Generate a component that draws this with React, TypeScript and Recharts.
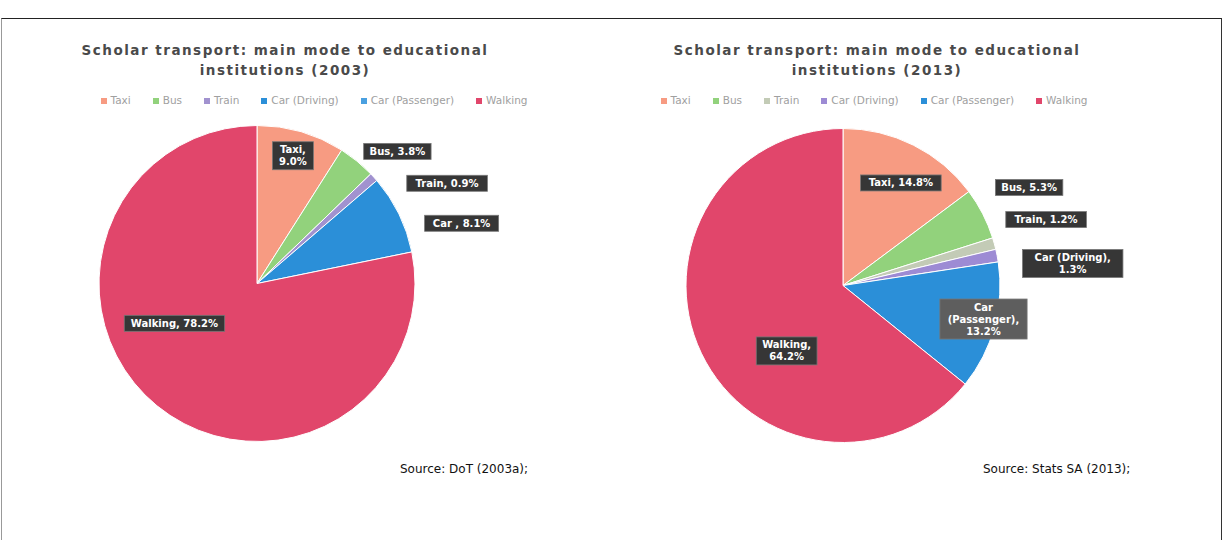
import React from 'react';
import { PieChart, Pie, Cell, Legend } from 'recharts';

const categories = ['Taxi', 'Bus', 'Train', 'Car (Driving)', 'Car (Passenger)', 'Walking'];
const values2003 = [9.0, 3.8, 0.9, 8.1, 0, 78.2];
const values2013 = [14.8, 5.3, 1.2, 1.3, 13.2, 64.2];
const labelNames2003 = ['Taxi', 'Bus', 'Train', 'Car ', 'Car (Passenger)', 'Walking'];
const labelNames2013 = ['Taxi', 'Bus', 'Train', 'Car (Driving)', 'Car (Passenger)', 'Walking'];
const title2003 = ['Scholar transport: main mode to educational', 'institutions (2003)'];
const title2013 = ['Scholar transport: main mode to educational', 'institutions (2013)'];
const source2003 = 'Source: DoT (2003a);';
const source2013 = 'Source: Stats SA (2013);';

const colors2003 = ['#f79b82', '#92d27c', '#a192cf', '#2b8fd8', '#4aa0e0', '#e1466b'];
const colors2013 = ['#f79b82', '#92d27c', '#c3cbb6', '#9d8bd4', '#2b8fd8', '#e1466b'];

type LabelCfg = { k: number; off: number; lines: number; bg?: string } | null;
const labelCfg2003: LabelCfg[] = [
  { k: 0.84, off: -0.5, lines: 2 },
  { k: 1.22, off: 7.5, lines: 1 },
  { k: 1.36, off: 14.5, lines: 1 },
  { k: 1.35, off: 9.7, lines: 1 },
  null,
  { k: 0.58, off: 25, lines: 1 },
];
const labelCfg2013: LabelCfg[] = [
  { k: 0.75, off: 2.8, lines: 1 },
  { k: 1.34, off: -0.6, lines: 1 },
  { k: 1.36, off: -2.5, lines: 1 },
  { k: 1.47, off: 5.5, lines: 2 },
  { k: 0.92, off: -1.7, lines: 3, bg: '#5e5e5e' },
  { k: 0.55, off: -23.7, lines: 2 },
];

const FONT = '"DejaVu Sans", Verdana, sans-serif';
// Recharts places numeric cx/cy inside the plot offset (margin + legend height)
const OFFSET_X = 5;
const OFFSET_Y = 15.5;

function makeLabel(cfg: LabelCfg[], names: string[]) {
  return (props: any) => {
    const { cx, cy, midAngle, outerRadius, index, value } = props;
    const c = cfg[index];
    if (!value || !c) return null;
    const ang = ((midAngle - c.off) * Math.PI) / 180;
    const r = outerRadius * c.k;
    const x = cx + r * Math.cos(ang);
    const y = cy - r * Math.sin(ang);
    const name = names[index];
    const pct = `${Number(value).toFixed(1)}%`;
    let lines: string[];
    if (c.lines === 1) lines = [`${name}, ${pct}`];
    else if (c.lines === 2) lines = [`${name},`, pct];
    else {
      const parts = name.split(' ');
      lines = [...parts.slice(0, -1), `${parts[parts.length - 1]},`, pct];
    }
    const lh = 12;
    const maxLen = Math.max(...lines.map((l) => l.length));
    const w = maxLen * 6.6 + 8;
    const h = lines.length * lh + 4;
    return (
      <g key={`lbl-${index}`}>
        <rect x={x - w / 2} y={y - h / 2} width={w} height={h} fill={c.bg || '#363636'} stroke="#777" strokeWidth={0.8} />
        {lines.map((l, i) => (
          <text
            key={i}
            x={x}
            y={y - h / 2 + 2 + lh * i + lh / 2}
            textAnchor="middle"
            dominantBaseline="central"
            fill="#fff"
            fontSize={10}
            fontWeight="bold"
            fontFamily={FONT}
          >
            {l}
          </text>
        ))}
      </g>
    );
  };
}

function ChartPanel(props: {
  left: number;
  values: number[];
  colors: string[];
  cfg: LabelCfg[];
  names: string[];
  title: string[];
  source: string;
  titleCenter: number;
  cx: number;
  cy: number;
  radius: number;
  legendCenter: number;
  sourceLeft: number;
}) {
  const data = categories.map((c, i) => ({ name: c, value: props.values[i] }));
  const legendWidth = 540;
  return (
    <div style={{ position: 'absolute', left: props.left, top: 0, width: 611, height: 540 }}>
      <div
        style={{
          position: 'absolute',
          left: props.titleCenter - 300,
          width: 600,
          top: 40,
          textAlign: 'center',
          fontFamily: FONT,
          fontSize: 13.5,
          fontWeight: 'bold',
          letterSpacing: 1.5,
          lineHeight: '20px',
          color: '#4a4a4a',
        }}
      >
        {props.title.map((t, i) => (
          <div key={i}>{t}</div>
        ))}
      </div>
      <PieChart width={611} height={540} style={{ position: 'absolute', left: 0, top: 0 }}>
        <Legend
          verticalAlign="top"
          align="center"
          iconType="square"
          iconSize={6}
          itemSorter={(item: any) => categories.indexOf(item.value)}
          wrapperStyle={{
            position: 'absolute',
            top: 94,
            left: props.legendCenter - legendWidth / 2,
            width: legendWidth,
            fontFamily: FONT,
            fontSize: 10.5,
            whiteSpace: 'nowrap',
          }}
          formatter={(v: string) => <span style={{ color: '#a0a0a0', marginRight: 12 }}>{v}</span>}
        />
        <Pie
          data={data}
          dataKey="value"
          nameKey="name"
          cx={props.cx - OFFSET_X}
          cy={props.cy - OFFSET_Y}
          outerRadius={props.radius}
          startAngle={90}
          endAngle={-270}
          stroke="#ffffff"
          strokeWidth={1}
          labelLine={false}
          label={makeLabel(props.cfg, props.names)}
          isAnimationActive={false}
        >
          {data.map((d, i) => (
            <Cell key={d.name} fill={props.colors[i]} />
          ))}
        </Pie>
      </PieChart>
      <div
        style={{
          position: 'absolute',
          left: props.sourceLeft,
          top: 462,
          fontFamily: FONT,
          fontSize: 12,
          color: '#111',
          whiteSpace: 'nowrap',
        }}
      >
        {props.source}
      </div>
    </div>
  );
}

export default function App() {
  return (
    <div style={{ position: 'fixed', left: 0, top: 0, width: 1223, height: 540, background: '#fff', overflow: 'hidden' }}>
      <div
        style={{
          position: 'absolute',
          left: 1,
          top: 18,
          width: 1219,
          height: 600,
          borderTop: '1.5px solid #222',
          borderLeft: '1px solid #999',
          borderRight: '1.5px solid #333',
        }}
      />
      <ChartPanel
        left={0}
        values={values2003}
        colors={colors2003}
        cfg={labelCfg2003}
        names={labelNames2003}
        title={title2003}
        source={source2003}
        titleCenter={285}
        cx={257}
        cy={282}
        radius={158}
        legendCenter={325}
        sourceLeft={400}
      />
      <ChartPanel
        left={611}
        values={values2013}
        colors={colors2013}
        cfg={labelCfg2013}
        names={labelNames2013}
        title={title2013}
        source={source2013}
        titleCenter={877 - 611}
        cx={843 - 611}
        cy={284}
        radius={157}
        legendCenter={885 - 611}
        sourceLeft={983 - 611}
      />
    </div>
  );
}
